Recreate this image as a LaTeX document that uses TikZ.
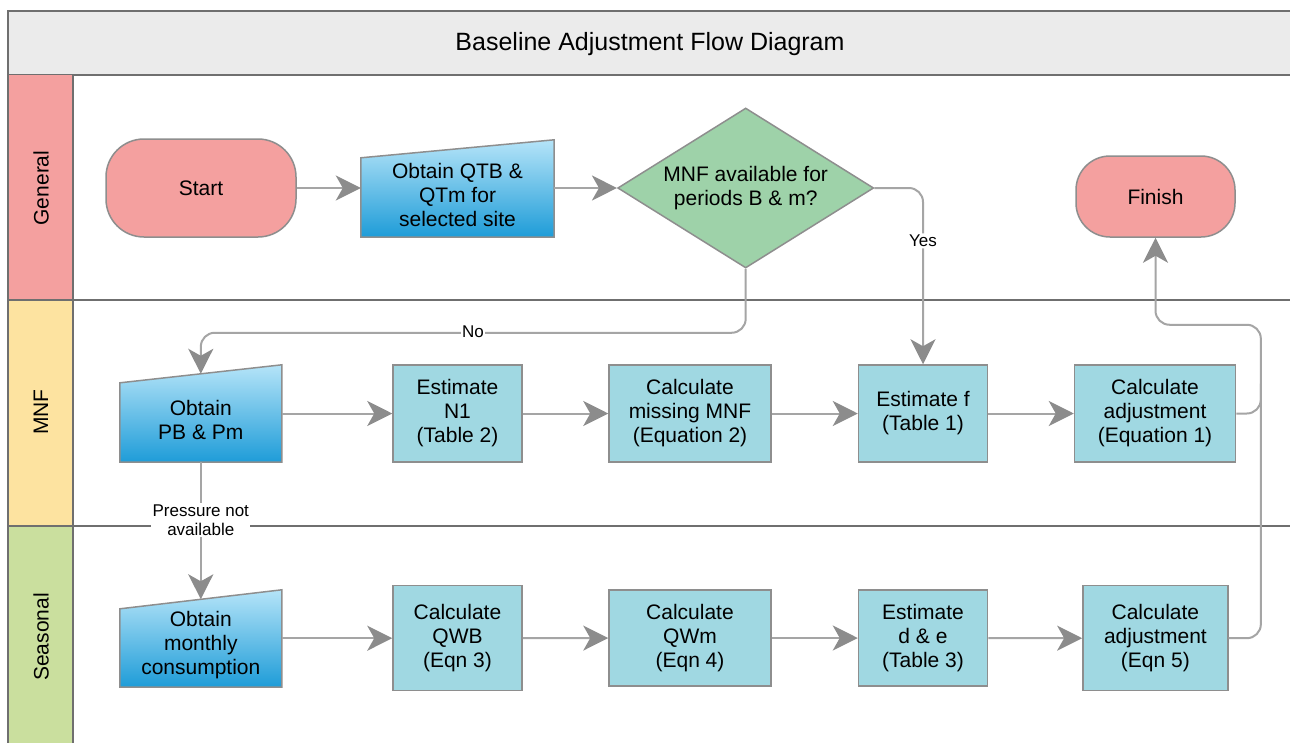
\documentclass[tikz,border=0pt]{standalone}
\usepackage{fontspec}
\setmainfont{Liberation Sans}
\usetikzlibrary{arrows.meta,calc,shapes.geometric}
\definecolor{titlebg}{HTML}{EBEBEB}
\definecolor{framec}{HTML}{6F6F6F}
\definecolor{genc}{HTML}{F4A09F}
\definecolor{mnfc}{HTML}{FDE3A0}
\definecolor{seac}{HTML}{CADF9E}
\definecolor{procc}{HTML}{A0D8E2}
\definecolor{diac}{HTML}{9ED2A9}
\definecolor{linec}{HTML}{A5A5A5}
\definecolor{arrc}{HTML}{8C8C8C}
\definecolor{borderc}{HTML}{8E8E8E}
\definecolor{intop}{HTML}{B5E4F8}
\definecolor{inbot}{HTML}{1E9CD8}
\pgfdeclarelayer{lanes}
\pgfdeclarelayer{shapesbg}
\pgfsetlayers{lanes,shapesbg,main}
\newcommand{\boxfont}{\fontsize{21}{24}\selectfont}
\newcommand{\lblfont}{\fontsize{17}{19}\selectfont}
\begin{document}
\begin{tikzpicture}[x=1pt,y=-1pt,
  txt/.style={inner sep=0, align=center, font=\boxfont},
  procbox/.style={txt, draw=borderc, line width=1.5pt, fill=procc},
  termbox/.style={txt, draw=borderc, line width=1.5pt, fill=genc},
  inbox/.style={txt},
  manin/.style={draw=borderc, line width=1.5pt, top color=intop, bottom color=inbot},
  conn/.style={draw=linec, line width=2pt, -{Stealth[length=25pt,width=25pt,inset=7pt,color=arrc]}},
  plainline/.style={draw=linec, line width=2pt},
  lbl/.style={fill=white, inner sep=1.5pt, align=center, font=\lblfont},
  lanetxt/.style={rotate=90, font=\boxfont, inner sep=0},
  divline/.style={draw=framec, line width=2pt}
]
\useasboundingbox (0,0) rectangle (1290,742);
\clip (0,0) rectangle (1290,742);

% lanes
\begin{pgfonlayer}{lanes}
\fill[white] (0,0) rectangle (1290,742);
\path[fill=titlebg, draw=framec, line width=2pt] (8,11) rectangle (1310,75);
\path[fill=genc] (8,75) rectangle (72.7,300);
\path[fill=mnfc] (8,300) rectangle (72.7,526);
\path[fill=seac] (8,526) rectangle (72.7,760);
\draw[divline] (8,75) -- (8,760);
\draw[divline] (72.7,75) -- (72.7,760);
\draw[divline] (8,300) -- (1310,300);
\draw[divline] (8,526) -- (1310,526);
\end{pgfonlayer}

\node[font=\fontsize{25}{30}\selectfont, inner sep=0] (title) at (650,44) {Baseline Adjustment Flow Diagram};
\node[lanetxt] (lgen) at (41,188) {General};
\node[lanetxt] (lmnf) at (41,412) {MNF};
\node[lanetxt] (lsea) at (41,637) {Seasonal};

% General lane
\node[termbox, rounded corners=38pt, minimum width=190, minimum height=98] (start) at (201,188) {Start};
\node[inbox, minimum width=193, minimum height=84] (qtb) at (457.5,195) {Obtain QTB \&\\QTm for\\selected site};
\node[txt, diamond, draw=borderc, line width=1.5pt, fill=diac, minimum width=256, minimum height=160, aspect=1.6] (dia) at (745.7,188) {MNF available for\\periods B \& m?};
\node[termbox, rounded corners=34pt, minimum width=159, minimum height=81] (finish) at (1155.5,196.5) {Finish};

% MNF lane
\node[inbox, minimum width=161.6, minimum height=84] (pb) at (200.8,420) {Obtain\\PB \& Pm};
\node[procbox, minimum width=129, minimum height=97] (n1) at (457.5,413.5) {Estimate\\N1\\(Table 2)};
\node[procbox, minimum width=162, minimum height=97] (mis) at (690,413.5) {Calculate\\missing MNF\\(Equation 2)};
\node[procbox, minimum width=129, minimum height=97] (estf) at (923,413.5) {Estimate f\\(Table 1)};
\node[procbox, minimum width=161, minimum height=97] (eq1) at (1155,413.5) {Calculate\\adjustment\\(Equation 1)};

% Seasonal lane
\node[inbox, minimum width=161.6, minimum height=84] (mon) at (200.8,645) {Obtain\\monthly\\consumption};
\node[procbox, minimum width=129, minimum height=105] (qwb) at (457.5,638.2) {Calculate\\QWB\\(Eqn 3)};
\node[procbox, minimum width=162, minimum height=96] (qwm) at (690,638) {Calculate\\QWm\\(Eqn 4)};
\node[procbox, minimum width=129, minimum height=96] (de) at (923,638) {Estimate\\d \& e\\(Table 3)};
\node[procbox, minimum width=145, minimum height=105] (eq5) at (1155.4,638.2) {Calculate\\adjustment\\(Eqn 5)};

% manual input shapes
\begin{pgfonlayer}{shapesbg}
\path[manin] (qtb.south west) -- ($(qtb.north west)+(0,5)$) -- ($(qtb.north east)+(0,-13)$) -- (qtb.south east) -- cycle;
\path[manin] (pb.south west) -- ($(pb.north west)+(0,5)$) -- ($(pb.north east)+(0,-13)$) -- (pb.south east) -- cycle;
\path[manin] (mon.south west) -- ($(mon.north west)+(0,6)$) -- ($(mon.north east)+(0,-13)$) -- (mon.south east) -- cycle;
\end{pgfonlayer}

% connectors
\draw[conn] (start.east) -- (start.east -| qtb.west);
\draw[conn] (qtb.east |- dia.west) -- (dia.west);
\draw[conn, rounded corners=14pt] (dia.east) -| node[lbl, pos=0.65] {Yes} (estf.north);
\draw[conn, rounded corners=14pt] (dia.south) -- ($(dia.south)+(0,64)$) -| ($(pb.north)+(0,-4)$);
\node[lbl] (nolbl) at (473,332) {No};
\draw[conn] (n1.west -| pb.east) -- (n1.west);
\draw[conn] (n1.east) -- (mis.west);
\draw[conn] (mis.east) -- (estf.west);
\draw[conn] (estf.east) -- (eq1.west);
\draw[conn, rounded corners=14pt] (eq1.east) -- ($(eq1.east)+(24.6,0)$) |- ($(finish.south)+(0,87)$) -- (finish.south);
\draw[conn] (pb.south) -- node[lbl, pos=0.42] {Pressure not\\available} ($(mon.north)+(0,-3.5)$);
\draw[conn] (qwb.west -| mon.east) -- (qwb.west);
\draw[conn] (qwb.east) -- (qwm.west);
\draw[conn] (qwm.east) -- (de.west);
\draw[conn] (de.east) -- (eq5.west);
\draw[plainline, rounded corners=14pt] (eq5.east) -| ($(eq1.east)+(24.6,-30)$);
\end{tikzpicture}
\end{document}
